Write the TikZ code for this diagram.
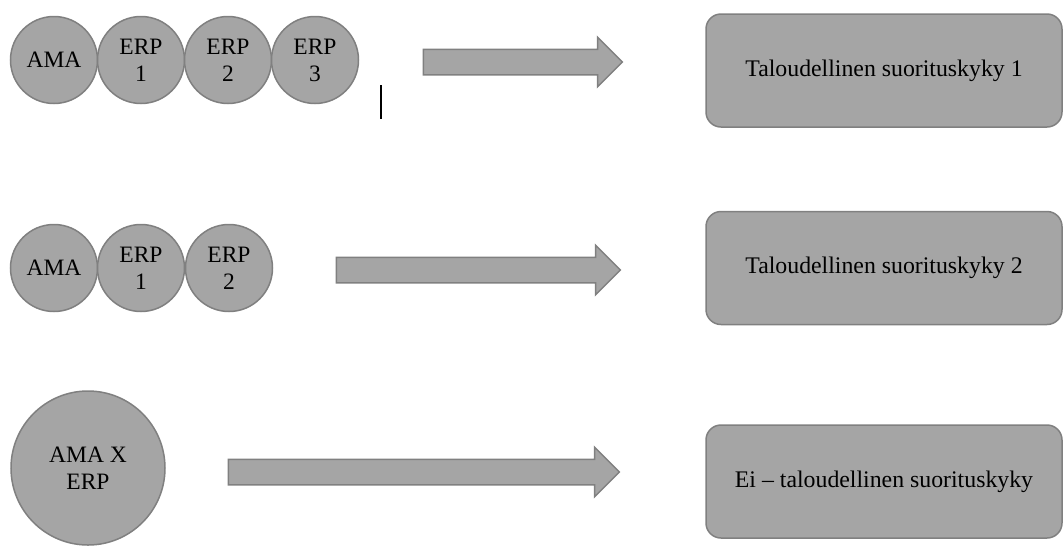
\documentclass[tikz,border=0pt]{standalone}
\usepackage{fontspec}
\setmainfont{Liberation Serif}
\usetikzlibrary{shapes.arrows}
\definecolor{boxgray}{RGB}{165,165,165}
\definecolor{edgegray}{RGB}{128,128,128}
\begin{document}
\begin{tikzpicture}[x=1pt, y=-1pt, thick,
        ball/.style={circle, draw=edgegray, fill=boxgray, line width=1.5pt, minimum size=87pt, inner sep=0pt, align=center, font=\fontsize{23.5}{27}\selectfont},
        goal/.style={draw=edgegray, fill=boxgray, line width=1.5pt, rounded corners=15pt, minimum width=356pt, minimum height=113pt, font=\fontsize{23.8}{27}\selectfont},
        fatarrow/.style={single arrow, draw=edgegray, fill=boxgray, line width=1.5pt, inner xsep=0pt, inner ysep=12pt, single arrow head extend=12pt, single arrow tip angle=90}]
        \useasboundingbox (0,0) rectangle (1064,547);

        % first row
        \node[ball] (ama1) at (54,60) {AMA};
        \node[ball] (erp11) at (141,60) {ERP\\1};
        \node[ball] (erp12) at (228,60) {ERP\\2};
        \node[ball] (erp13) at (315,60) {ERP\\3};
        \draw[line width=1.2pt] (381,85) -- (381,119);
        \node[fatarrow, minimum height=199pt] (arr1) at (516.5,62) {};
        \node[goal] (perf1) at (884,70.5) {Taloudellinen suorituskyky 1};

        % second row
        \node[ball] (ama2) at (54,268) {AMA};
        \node[ball] (erp21) at (141,268) {ERP\\1};
        \node[ball] (erp22) at (229,268) {ERP\\2};
        \node[fatarrow, minimum height=284pt] (arr2) at (472,270) {};
        \node[goal] (perf2) at (884,268) {Taloudellinen suorituskyky 2};

        % third row
        \node[ball, minimum size=154pt] (amaerp) at (88,468) {AMA X\\ERP};
        \node[fatarrow, minimum height=391pt] (arr3) at (417.5,472) {};
        \node[goal] (perf3) at (884,481.5) {Ei -- taloudellinen suorituskyky};
    \end{tikzpicture}
\end{document}
